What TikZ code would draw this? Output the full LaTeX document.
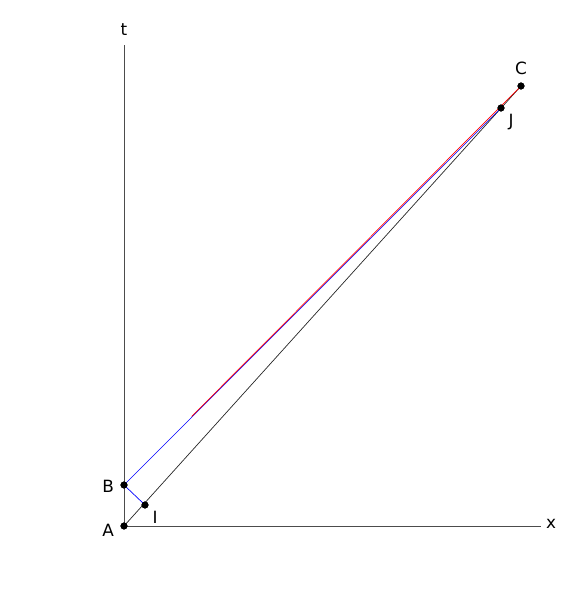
\documentclass[tikz,border=0pt]{standalone}
\usepackage{fontspec}
\setmainfont{DejaVu Sans}
\usepackage{tikz}
\usetikzlibrary{positioning, calc}
\tikzset{
    axis/.style={thin, black!70},
    worldline/.style={line width=0.5pt, black!85},
    ray/.style={line width=0.5pt, blue},
    signal/.style={line width=0.5pt, red},
    event/.style={circle, fill=black, inner sep=0pt, minimum size=5pt},
    every node/.style={font=\fontsize{12}{14}\selectfont}
}
\begin{document}
\begin{tikzpicture}
    \useasboundingbox (-3.1,-1.85) rectangle (11.025,13.15);
    % Axes
    \coordinate (O) at (0,0);
    \coordinate (xend) at (10.425,0);
    \coordinate (tend) at (0,12.025);
    \draw[axis] (O) -- (xend);
    \draw[axis] (O) -- (tend);
    \node (xlab) at (10.675,0.05) {x};
    \node (tlab) at (0,12.4) {t};
    % Events
    \node[event] (A) at (0,0) {};
    \node[event] (B) at (0,1.025) {};
    \node[event] (I) at (0.525,0.525) {};
    \node[event] (J) at (9.425,10.45) {};
    \node[event] (C) at (9.925,11.0) {};
    \node[left=1pt of A, yshift=-3pt] (Alab) {A};
    \node[left=1pt of B, yshift=-1pt] (Blab) {B};
    \node[below right=-1pt and 0pt of I] (Ilab) {I};
    \node[above=2pt of C] (Clab) {C};
    \node[below right=-1pt and 0pt of J] (Jlab) {J};
    % World line A--C
    \draw[worldline] (A.center) -- (C.center);
    % Light signals
    \draw[ray] (B.center) -- (J.center);
    \draw[ray] (B.center) -- (I.center);
    \coordinate (R) at ($(B)!0.171!(C)$);
    \draw[signal] ([shift={(-0.2pt,0.2pt)}]R) -- (C.center);
    % redraw dots on top
    \foreach \p in {A,B,I,J,C} \fill (\p) circle (2.5pt);
\end{tikzpicture}
\end{document}
